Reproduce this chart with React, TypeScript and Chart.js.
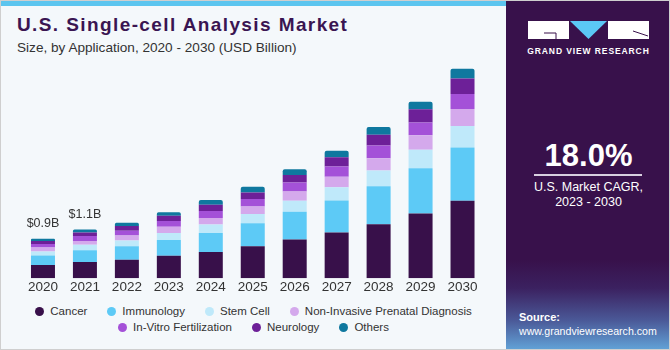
import React, { useEffect, useRef } from "react";
import { Chart, registerables } from "chart.js";

Chart.register(...registerables);

const years = ["2020", "2021", "2022", "2023", "2024", "2025", "2026", "2027", "2028", "2029", "2030"];
const cancer = [0.30, 0.37, 0.42, 0.51, 0.60, 0.73, 0.88, 1.04, 1.23, 1.47, 1.76];
const immunology = [0.22, 0.27, 0.31, 0.36, 0.43, 0.52, 0.63, 0.73, 0.86, 1.03, 1.21];
const stemCell = [0.09, 0.12, 0.13, 0.16, 0.19, 0.21, 0.25, 0.30, 0.36, 0.42, 0.49];
const nipd = [0.09, 0.09, 0.11, 0.14, 0.15, 0.17, 0.21, 0.24, 0.28, 0.33, 0.39];
const ivf = [0.08, 0.11, 0.11, 0.13, 0.16, 0.17, 0.21, 0.23, 0.29, 0.29, 0.34];
const neurology = [0.07, 0.08, 0.11, 0.12, 0.14, 0.15, 0.17, 0.21, 0.24, 0.30, 0.35];
const others = [0.05, 0.07, 0.07, 0.08, 0.11, 0.13, 0.13, 0.15, 0.18, 0.17, 0.22];
const totalLabels = ["$0.9B", "$1.1B", "", "", "", "", "", "", "", "", ""];

const seriesNames = [
  "Cancer",
  "Immunology",
  "Stem Cell",
  "Non-Invasive Prenatal Diagnosis",
  "In-Vitro Fertilization",
  "Neurology",
  "Others",
];
const seriesColors = ["#38104a", "#5dcaf6", "#bfe9fa", "#d4a9ec", "#a451d8", "#6d2098", "#0f789f"];
const seriesValues = [cancer, immunology, stemCell, nipd, ivf, neurology, others];

const FONT = "'Liberation Sans', Arial, sans-serif";

const totalLabelPlugin = {
  id: "totalLabels",
  afterDatasetsDraw(chart: any) {
    const ctx = chart.ctx;
    const lastMeta = chart.getDatasetMeta(chart.data.datasets.length - 1);
    ctx.save();
    ctx.font = `12.5px ${FONT}`;
    ctx.fillStyle = "#333333";
    ctx.textAlign = "center";
    ctx.textBaseline = "middle";
    totalLabels.forEach((t, i) => {
      if (!t) return;
      const el = lastMeta.data[i];
      ctx.fillText(t, el.x, el.y - 15);
    });
    ctx.restore();
  },
};

export default function App() {
  const canvasRef = useRef<HTMLCanvasElement | null>(null);

  useEffect(() => {
    document.body.style.margin = "0";
    const canvas = canvasRef.current;
    if (!canvas) return;
    const chart = new Chart(canvas, {
      type: "bar",
      data: {
        labels: years,
        datasets: seriesNames.map((name, i) => ({
          label: name,
          data: seriesValues[i],
          backgroundColor: seriesColors[i],
          borderWidth: 0,
          borderRadius: i === seriesNames.length - 1 ? 2 : 0,
          barPercentage: 0.572,
          categoryPercentage: 1,
        })),
      },
      options: {
        animation: false,
        responsive: false,
        devicePixelRatio: 1,
        layout: { padding: { top: 8.3, left: 22, right: 21.5, bottom: 0 } },
        plugins: {
          legend: { display: false },
          tooltip: { enabled: false },
        },
        scales: {
          x: {
            stacked: true,
            grid: { display: false, drawTicks: false },
            border: { display: false },
            ticks: {
              color: "#333333",
              font: { family: FONT, size: 13.5 },
              padding: 1,
              maxRotation: 0,
              autoSkip: false,
            },
            afterFit: (scale: any) => {
              scale.height = 21.7;
            },
          },
          y: {
            stacked: true,
            display: false,
            min: 0,
            max: 5,
          },
        },
      },
      plugins: [totalLabelPlugin],
    });
    return () => chart.destroy();
  }, []);

  const legendRow1 = [0, 1, 2, 3];
  const legendRow2 = [4, 5, 6];
  const legendItem = (i: number) => (
    <div key={i} style={{ display: "flex", alignItems: "center", margin: "0 10px" }}>
      <span
        style={{
          width: 9,
          height: 9,
          borderRadius: "50%",
          background: seriesColors[i],
          display: "inline-block",
          marginRight: 6,
        }}
      />
      <span>{seriesNames[i]}</span>
    </div>
  );

  return (
    <div
      style={{
        position: "fixed",
        left: 0,
        top: 0,
        width: 670,
        height: 350,
        background: "#f4f8fb",
        overflow: "hidden",
        fontFamily: FONT,
        boxSizing: "border-box",
        border: "1px solid #cfcfcf",
      }}
    >
      {/* top stripe */}
      <div style={{ position: "absolute", left: 0, top: 0, width: 505, height: 5, background: "#5cc5ef" }} />

      {/* title */}
      <div
        style={{
          position: "absolute",
          left: 16,
          top: 12,
          fontSize: 19,
          fontWeight: 700,
          color: "#3a1552",
          letterSpacing: 1.4,
          whiteSpace: "nowrap",
          lineHeight: "24px",
        }}
      >
        U.S. Single-cell Analysis Market
      </div>
      <div
        style={{
          position: "absolute",
          left: 16,
          top: 38,
          fontSize: 13.6,
          color: "#333333",
          whiteSpace: "nowrap",
          lineHeight: "18px",
        }}
      >
        Size, by Application, 2020 - 2030 (USD Billion)
      </div>

      {/* chart */}
      <canvas
        ref={canvasRef}
        width={505}
        height={250}
        style={{ position: "absolute", left: -1, top: 49, width: 505, height: 250 }}
      />

      {/* legend */}
      <div
        style={{
          position: "absolute",
          left: 0,
          top: 303,
          width: 505,
          fontSize: 11.5,
          color: "#333333",
          lineHeight: "15.5px",
        }}
      >
        <div style={{ display: "flex", justifyContent: "center" }}>{legendRow1.map(legendItem)}</div>
        <div style={{ display: "flex", justifyContent: "center" }}>{legendRow2.map(legendItem)}</div>
      </div>

      {/* right panel */}
      <div
        style={{
          position: "absolute",
          left: 505,
          top: 0,
          width: 165,
          height: 350,
          background:
            "linear-gradient(to bottom, #38114b 0%, #38114b 74%, #3b2160 82%, #4a5796 91%, #63a6da 100%)",
          color: "#ffffff",
        }}
      >
        <svg
          width={165}
          height={60}
          style={{ position: "absolute", left: 0, top: 0 }}
          viewBox="0 0 165 60"
        >
          <rect x={22} y={20} width={41} height={18} fill="#ffffff" />
          <polyline points="38,32 50,32 50,38" fill="none" stroke="#38114b" strokeWidth={1} />
          <polygon points="64,20 101,20 82.5,38" fill="#5bc8f5" />
          <rect x={102} y={20} width={41} height={18} fill="#ffffff" />
          <line x1={127} y1={30} x2={142} y2={35} stroke="#38114b" strokeWidth={1} />
        </svg>
        <div
          style={{
            position: "absolute",
            left: 0,
            width: 165,
            top: 45,
            textAlign: "center",
            fontSize: 8.5,
            fontWeight: 700,
            letterSpacing: 0.9,
            lineHeight: "11px",
            whiteSpace: "nowrap",
          }}
        >
          GRAND VIEW RESEARCH
        </div>
        <div
          style={{
            position: "absolute",
            left: 0,
            width: 165,
            top: 137,
            textAlign: "center",
            fontSize: 31,
            fontWeight: 700,
            lineHeight: "36px",
          }}
        >
          18.0%
        </div>
        <div
          style={{ position: "absolute", left: 28, top: 173, width: 108, height: 1.5, background: "#d8d0e0" }}
        />
        <div
          style={{
            position: "absolute",
            left: 0,
            width: 165,
            top: 179,
            textAlign: "center",
            fontSize: 12.5,
            lineHeight: "15px",
          }}
        >
          U.S. Market CAGR,
          <br />
          2023 - 2030
        </div>
        <div
          style={{
            position: "absolute",
            left: 13,
            top: 309,
            fontSize: 11,
            lineHeight: "14px",
            whiteSpace: "nowrap",
          }}
        >
          <div style={{ fontWeight: 700 }}>Source:</div>
          <div style={{ fontSize: 10.6 }}>www.grandviewresearch.com</div>
        </div>
      </div>
    </div>
  );
}
